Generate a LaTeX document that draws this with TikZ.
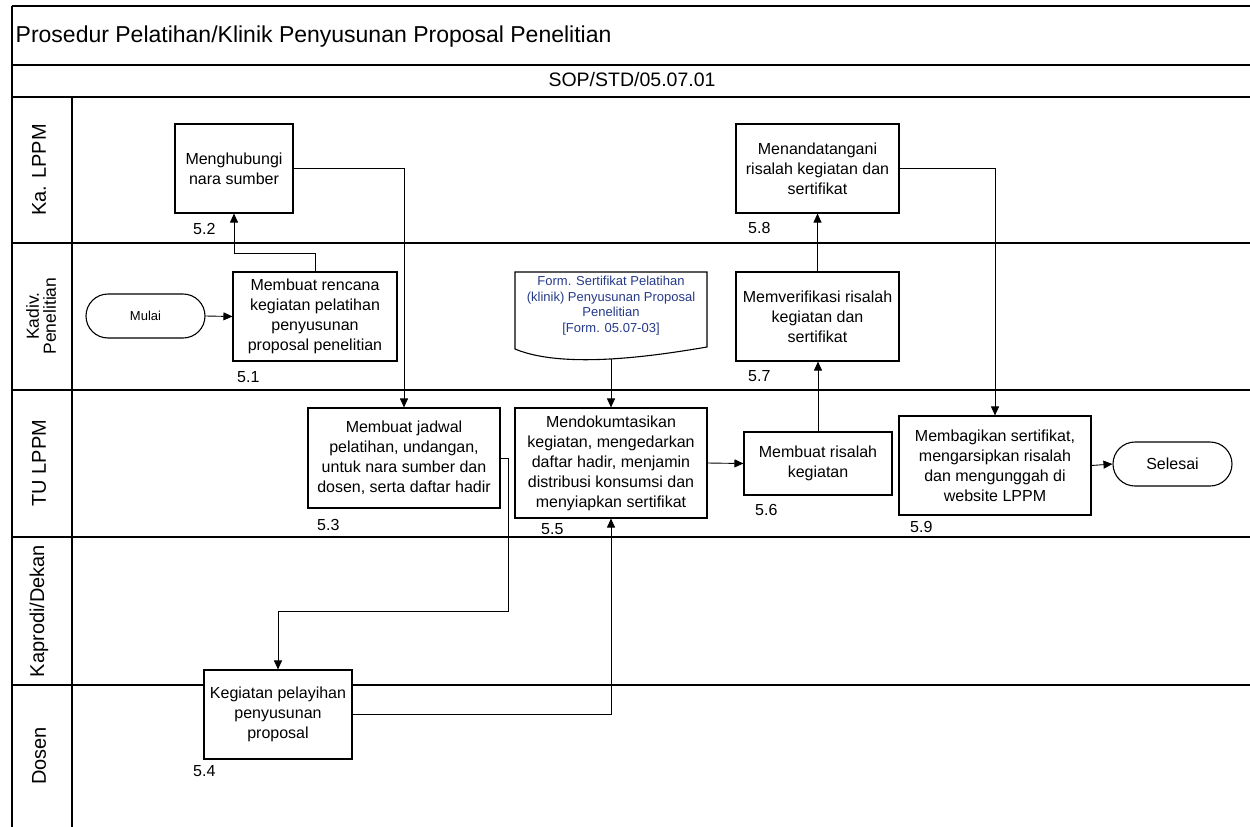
\documentclass[tikz,border=0pt]{standalone}
\usepackage{fontspec}
\setmainfont{Liberation Sans}
\usetikzlibrary{arrows.meta}
\definecolor{formblue}{RGB}{38,58,138}

\begin{document}
\begin{tikzpicture}[x=1pt,y=-1pt,
    proc/.style={draw,fill=white,line width=1.1pt,align=center,inner sep=2pt,
        font=\fontsize{16}{20}\selectfont},
    term/.style={draw,fill=white,line width=1.1pt,rounded corners=22pt,
        minimum width=119pt,minimum height=44pt},
    num/.style={anchor=west,inner sep=0pt,font=\fontsize{16}{19}\selectfont},
    lane/.style={rotate=90,align=center,inner sep=0pt,font=\fontsize{20}{22}\selectfont},
    conn/.style={line width=0.9pt},
    arr/.style={conn,-{Triangle[length=9pt,width=8pt]}}]
\useasboundingbox (0,0) rectangle (1250,827);

% frame and lanes
\draw[line width=1.4pt] (12,6) -- (1250,6) (12,65) -- (1250,65) (12,97) -- (1250,97)
    (12,6) -- (12,827) (72,97) -- (72,827);
\foreach \y in {243,390,537,685}
    \draw[line width=1.4pt] (12,\y) -- (1250,\y);

\node[anchor=west,inner sep=0pt,font=\fontsize{23}{27}\selectfont] (judul) at (15.5,37)
    {Prosedur Pelatihan/Klinik Penyusunan Proposal Penelitian};
\node[font=\fontsize{19.5}{22}\selectfont] (kode) at (632,80) {SOP/STD/05.07.01};

\node[lane] (ka) at (39,170) {Ka. LPPM};
\node[lane,font=\fontsize{17.5}{17}\selectfont] (kadiv) at (41,316) {Kadiv.\\Penelitian};
\node[lane] (tu) at (39,463) {TU LPPM};
\node[lane] (kaprodi) at (39,611) {Kaprodi/Dekan};
\node[lane] (dosen) at (39,756) {Dosen};

% steps
\node[term,font=\fontsize{13}{15}\selectfont] (mulai) at (145.5,316) {Mulai};
\node[proc,minimum width=164pt,minimum height=89pt] (b51) at (315,316.5)
    {Membuat rencana\\kegiatan pelatihan\\penyusunan\\proposal penelitian};
\node[proc,minimum width=118pt,minimum height=89pt] (b52) at (234,168.5)
    {Menghubungi\\nara sumber};
\node[proc,minimum width=192pt,minimum height=100pt] (b53) at (404,458)
    {Membuat jadwal\\pelatihan, undangan,\\untuk nara sumber dan\\dosen, serta daftar hadir};
\node[proc,minimum width=148pt,minimum height=89pt] (b54) at (278,714.5)
    {Kegiatan pelayihan\\penyusunan\\proposal};
\node[proc,minimum width=192pt,minimum height=110pt] (b55) at (611,463)
    {Mendokumtasikan\\kegiatan, mengedarkan\\daftar hadir, menjamin\\distribusi konsumsi dan\\menyiapkan sertifikat};
\node[proc,minimum width=148pt,minimum height=63pt] (b56) at (818,463.5)
    {Membuat risalah\\kegiatan};
\node[proc,minimum width=163pt,minimum height=89pt] (b57) at (817.5,316.5)
    {Memverifikasi risalah\\kegiatan dan\\sertifikat};
\node[proc,minimum width=163pt,minimum height=89pt] (b58) at (817.5,168.5)
    {Menandatangani\\risalah kegiatan dan\\sertifikat};
\node[proc,minimum width=192pt,minimum height=99pt] (b59) at (995,465.5)
    {Membagikan sertifikat,\\mengarsipkan risalah\\dan mengunggah di\\website LPPM};
\node[term,font=\fontsize{16}{19}\selectfont] (selesai) at (1172.5,464) {Selesai};

% form document
\draw[line width=1.1pt,fill=white] (515,272) -- (707,272) -- (707,347)
    .. controls (660,355) and (565,370) .. (515,349) -- cycle;
\node[align=center,text=formblue,font=\fontsize{13}{15.5}\selectfont] (form) at (611,305.5)
    {Form. Sertifikat Pelatihan\\(klinik) Penyusunan Proposal\\Penelitian\\{[Form. 05.07-03]}};
\coordinate (formb) at (611,359);

% step numbers
\node[num] (n51) at (237,377) {5.1};
\node[num] (n52) at (193,229) {5.2};
\node[num] (n53) at (317,525) {5.3};
\node[num] (n54) at (193,771) {5.4};
\node[num] (n55) at (541,529) {5.5};
\node[num] (n56) at (755,510) {5.6};
\node[num] (n57) at (748,376) {5.7};
\node[num] (n58) at (748,228) {5.8};
\node[num] (n59) at (910,527) {5.9};

% flow
\coordinate (k1) at (508,611);
\draw[arr] (mulai.east) -- (b51.west);
\draw[arr] (b51.north) -- ++(0,-18) -| (b52.south);
\draw[arr] (b52.east) -| (b53.north);
\draw[arr] (b53.east) -| (k1) -| (b54.north);
\draw[arr] (b54.east) -| (b55.south);
\draw[arr] (formb) -- (b55.north);
\draw[arr] (b55.east) -- (b56.west);
\draw[arr] (b56.north) -- (b56.north |- b57.south);
\draw[arr] (b57.north) -- (b57.north |- b58.south);
\draw[arr] (b58.east) -| (b59.north);
\draw[arr] (b59.east) -- (selesai.west);
\end{tikzpicture}
\end{document}
